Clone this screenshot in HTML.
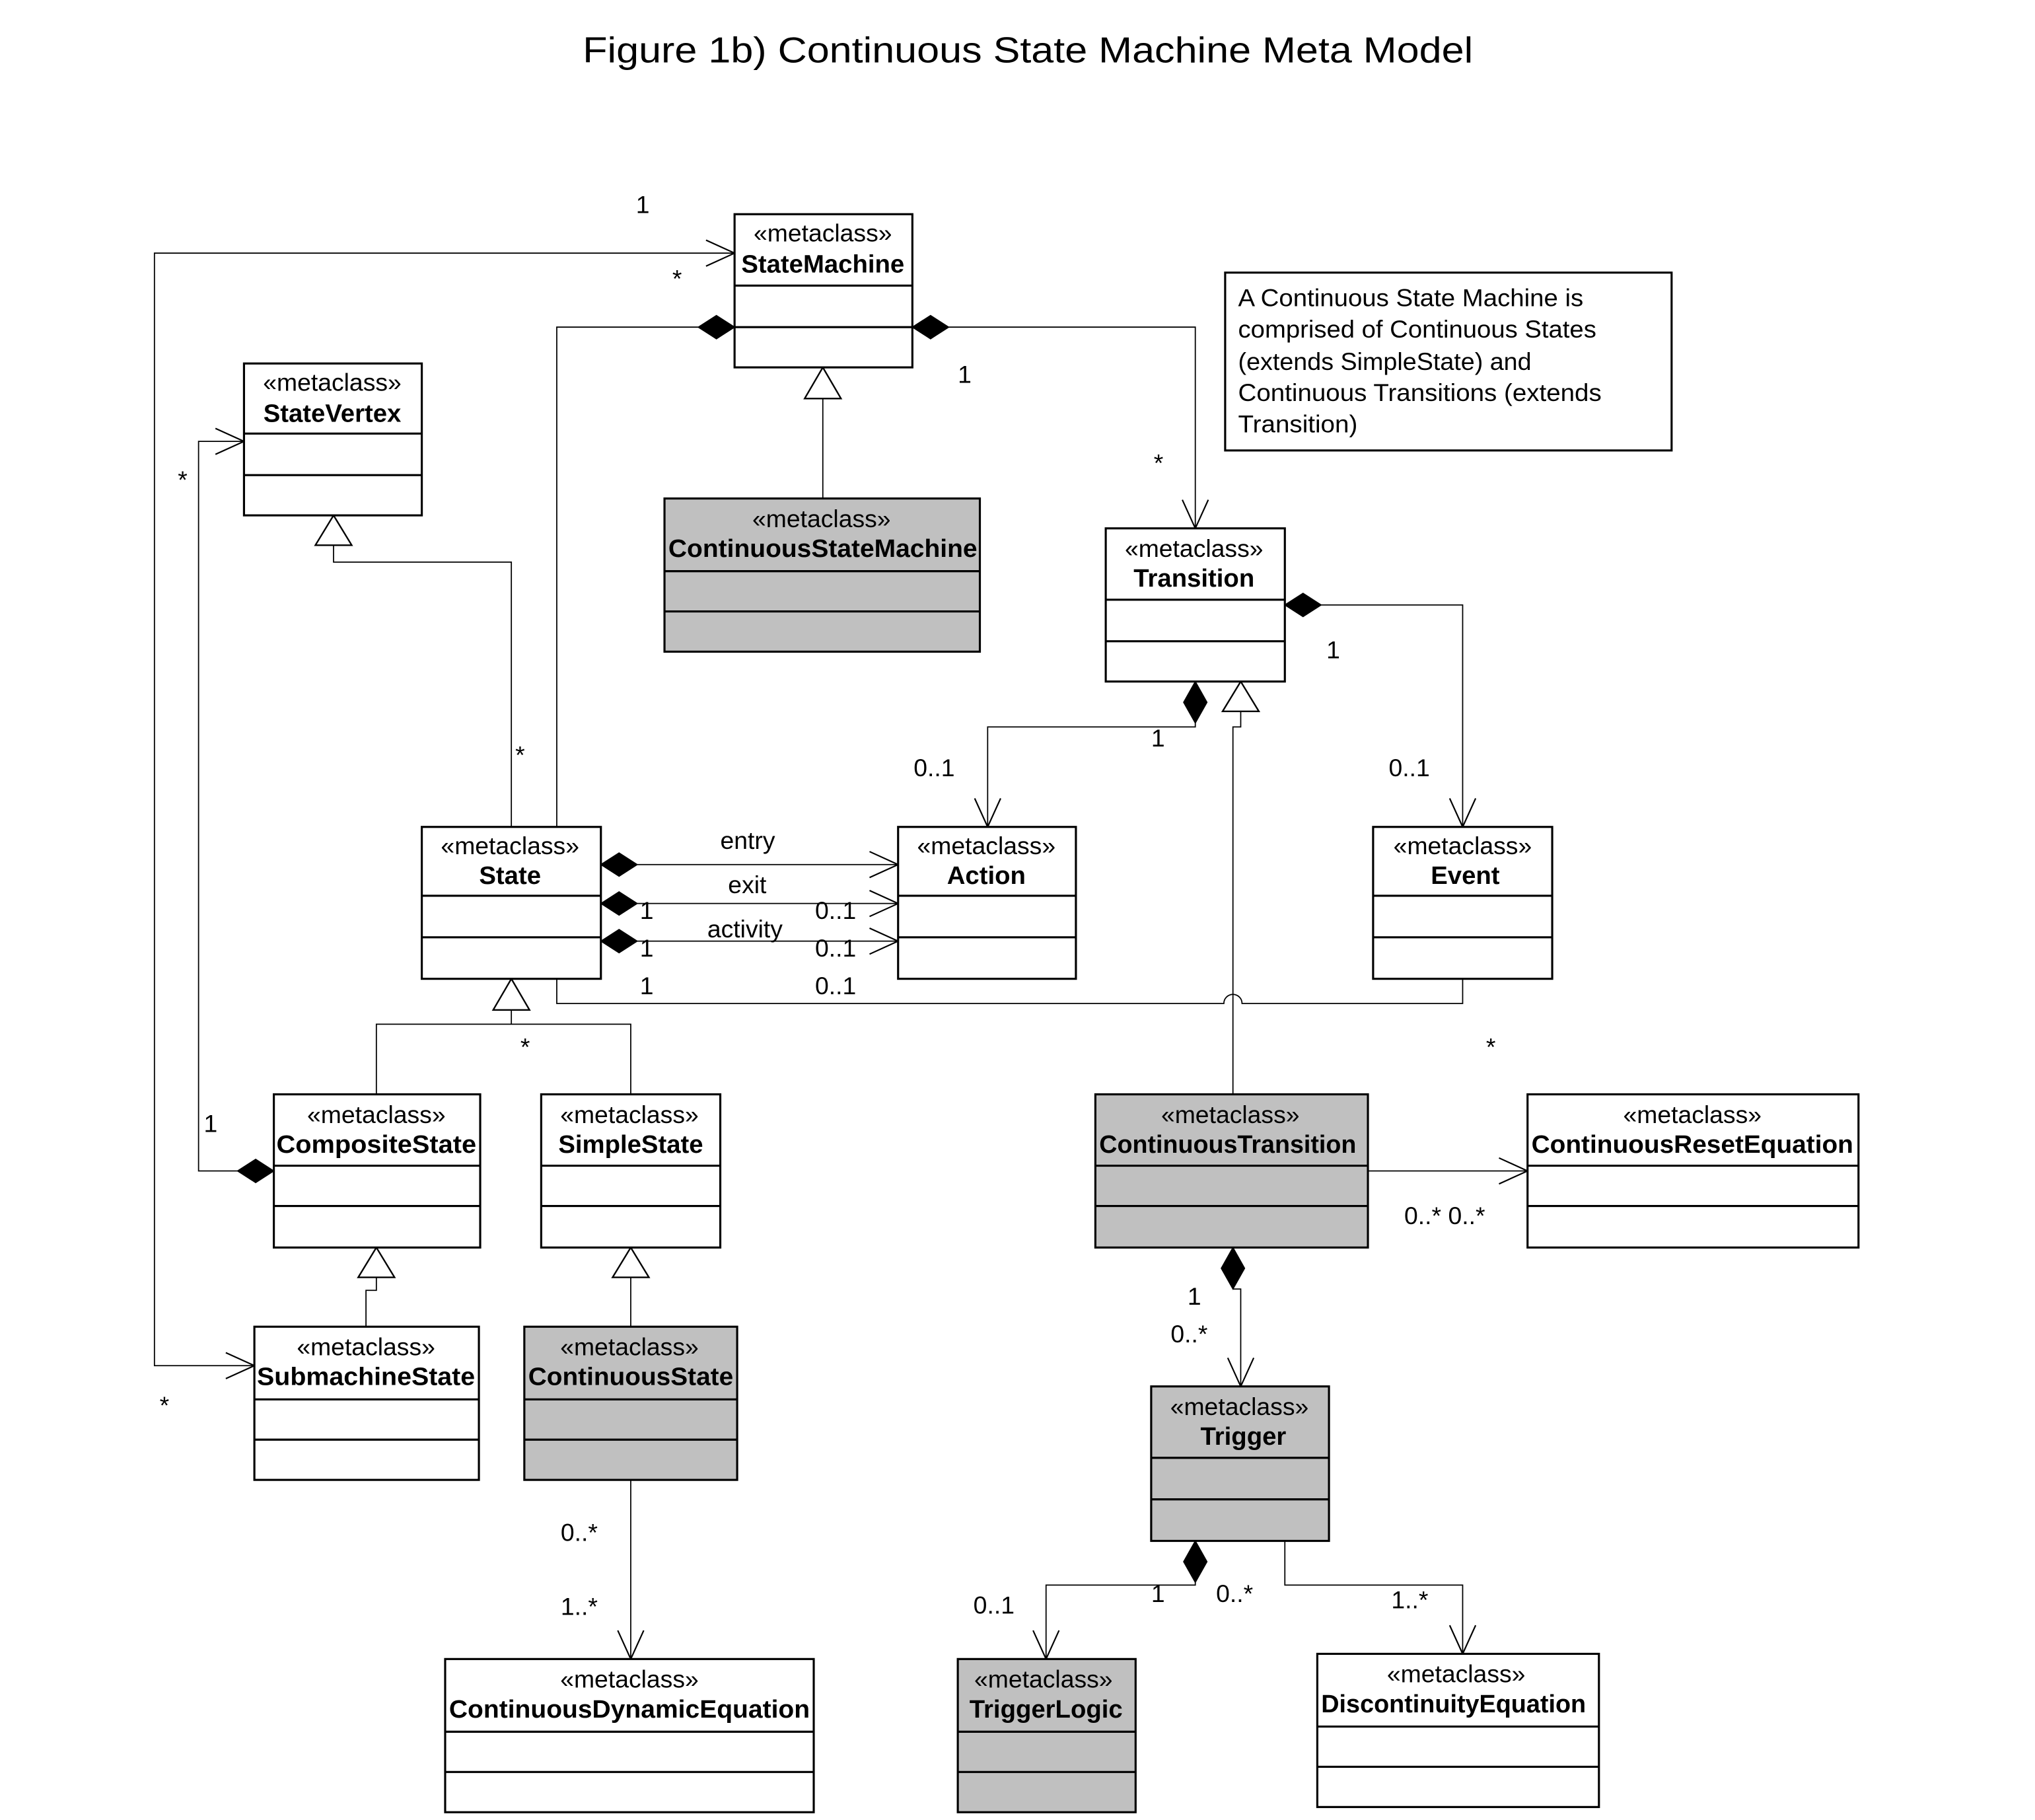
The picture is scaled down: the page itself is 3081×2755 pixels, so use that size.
<!DOCTYPE html>
<html><head><meta charset="utf-8"><style>
html,body{margin:0;padding:0;background:#fff;}
svg{display:block;}
text{font-family:"Liberation Sans",Arial,sans-serif;fill:#000;}
.st{font-size:19px;text-anchor:middle;}
.nm{font-size:19.5px;font-weight:bold;text-anchor:middle;}
.lb{font-size:19px;}
.bx{stroke:#000;stroke-width:1.6;}
.ln{stroke:#000;stroke-width:0.9;fill:none;}
.ar{stroke:#000;stroke-width:1.1;fill:none;}
.dm{fill:#000;stroke:#000;stroke-width:0.8;}
.tr{fill:#fff;stroke:#000;stroke-width:1.2;}
</style></head><body>
<svg width="3081" height="2755" viewBox="0 0 1568 1402" preserveAspectRatio="none" xmlns="http://www.w3.org/2000/svg">
<rect x="0" y="0" width="1568" height="1402" fill="#fff"/>
<text x="449" y="48" style="font-size:28px" textLength="686" lengthAdjust="spacingAndGlyphs">Figure 1b) Continuous State Machine Meta Model</text>

<!-- connectors -->
<polyline class="ln" points="566,195 119,195 119,1052 196,1052"/>
<polyline class="ar" points="544,185 566,195 544,205"/>
<polyline class="ar" points="174,1042 196,1052 174,1062"/>

<polyline class="ln" points="183,902 153,902 153,340 188,340"/>
<polyline class="ar" points="166,330 188,340 166,350"/>

<polyline class="ln" points="538,252 429,252 429,637"/>
<polyline class="ln" points="731,252 921,252 921,407"/>
<polyline class="ar" points="911,385 921,407 931,385"/>

<polyline class="ln" points="634,384 634,307"/>
<polyline class="ln" points="394,637 394,433 257,433 257,420"/>

<polyline class="ln" points="1018,466 1127,466 1127,637"/>
<polyline class="ar" points="1117,615 1127,637 1137,615"/>

<polyline class="ln" points="921,557 921,560 761,560 761,637"/>
<polyline class="ar" points="751,615 761,637 771,615"/>

<polyline class="ln" points="956,548 956,560 950,560 950,767"/>
<path class="ln" d="M950,767 L950,843"/>
<path class="ln" d="M429,754 L429,773 L943,773 A7,7 0 0 1 957,773 L1127,773 L1127,754"/>

<line class="ln" x1="491" y1="666" x2="692" y2="666"/>
<line class="ln" x1="491" y1="696" x2="692" y2="696"/>
<line class="ln" x1="491" y1="725" x2="692" y2="725"/>
<polyline class="ar" points="670,656 692,666 670,676"/>
<polyline class="ar" points="670,686 692,696 670,706"/>
<polyline class="ar" points="670,715 692,725 670,735"/>

<polyline class="ln" points="394,778 394,789"/>
<polyline class="ln" points="290,843 290,789 486,789 486,843"/>
<polyline class="ln" points="290,984 290,994 282,994 282,1022"/>
<polyline class="ln" points="486,984 486,1022"/>

<polyline class="ln" points="486,1140 486,1278"/>
<polyline class="ar" points="476,1256 486,1278 496,1256"/>

<polyline class="ln" points="1054,902 1177,902"/>
<polyline class="ar" points="1155,892 1177,902 1155,912"/>

<polyline class="ln" points="950,993 956,993 956,1068"/>
<polyline class="ar" points="946,1046 956,1068 966,1046"/>

<polyline class="ln" points="921,1219 921,1221 806,1221 806,1278"/>
<polyline class="ar" points="796,1256 806,1278 816,1256"/>
<polyline class="ln" points="990,1187 990,1221 1127,1221 1127,1274"/>
<polyline class="ar" points="1117,1252 1127,1274 1137,1252"/>

<!-- diamonds -->
<polygon class="dm" points="566,252 552,243 538,252 552,261"/>
<polygon class="dm" points="703,252 717,243 731,252 717,261"/>
<polygon class="dm" points="990,466 1004,457 1018,466 1004,475"/>
<polygon class="dm" points="921,525 912,541 921,557 930,541"/>
<polygon class="dm" points="463,666 477,657 491,666 477,675"/>
<polygon class="dm" points="463,696 477,687 491,696 477,705"/>
<polygon class="dm" points="463,725 477,716 491,725 477,734"/>
<polygon class="dm" points="211,902 197,893 183,902 197,911"/>
<polygon class="dm" points="950,961 941,977 950,993 959,977"/>
<polygon class="dm" points="921,1187 912,1203 921,1219 930,1203"/>

<!-- triangles -->
<polygon class="tr" points="634,283 620,307 648,307"/>
<polygon class="tr" points="257,397 243,420 271,420"/>
<polygon class="tr" points="956,525 942,548 970,548"/>
<polygon class="tr" points="394,754 380,778 408,778"/>
<polygon class="tr" points="290,961 276,984 304,984"/>
<polygon class="tr" points="486,961 472,984 500,984"/>

<!-- boxes -->
<g class="bx">
<rect x="566" y="165" width="137" height="118" fill="#fff"/><line x1="566" y1="220" x2="703" y2="220"/><line x1="566" y1="252" x2="703" y2="252"/>
<rect x="188" y="280" width="137" height="117" fill="#fff"/><line x1="188" y1="334" x2="325" y2="334"/><line x1="188" y1="366" x2="325" y2="366"/>
<rect x="512" y="384" width="243" height="118" fill="#c0c0c0"/><line x1="512" y1="440" x2="755" y2="440"/><line x1="512" y1="471" x2="755" y2="471"/>
<rect x="852" y="407" width="138" height="118" fill="#fff"/><line x1="852" y1="462" x2="990" y2="462"/><line x1="852" y1="494" x2="990" y2="494"/>
<rect x="944" y="210" width="344" height="137" fill="#fff"/>
<rect x="325" y="637" width="138" height="117" fill="#fff"/><line x1="325" y1="690" x2="463" y2="690"/><line x1="325" y1="722" x2="463" y2="722"/>
<rect x="692" y="637" width="137" height="117" fill="#fff"/><line x1="692" y1="690" x2="829" y2="690"/><line x1="692" y1="722" x2="829" y2="722"/>
<rect x="1058" y="637" width="138" height="117" fill="#fff"/><line x1="1058" y1="690" x2="1196" y2="690"/><line x1="1058" y1="722" x2="1196" y2="722"/>
<rect x="211" y="843" width="159" height="118" fill="#fff"/><line x1="211" y1="898" x2="370" y2="898"/><line x1="211" y1="929" x2="370" y2="929"/>
<rect x="417" y="843" width="138" height="118" fill="#fff"/><line x1="417" y1="898" x2="555" y2="898"/><line x1="417" y1="929" x2="555" y2="929"/>
<rect x="844" y="843" width="210" height="118" fill="#c0c0c0"/><line x1="844" y1="898" x2="1054" y2="898"/><line x1="844" y1="929" x2="1054" y2="929"/>
<rect x="1177" y="843" width="255" height="118" fill="#fff"/><line x1="1177" y1="898" x2="1432" y2="898"/><line x1="1177" y1="929" x2="1432" y2="929"/>
<rect x="196" y="1022" width="173" height="118" fill="#fff"/><line x1="196" y1="1078" x2="369" y2="1078"/><line x1="196" y1="1109" x2="369" y2="1109"/>
<rect x="404" y="1022" width="164" height="118" fill="#c0c0c0"/><line x1="404" y1="1078" x2="568" y2="1078"/><line x1="404" y1="1109" x2="568" y2="1109"/>
<rect x="887" y="1068" width="137" height="119" fill="#c0c0c0"/><line x1="887" y1="1123" x2="1024" y2="1123"/><line x1="887" y1="1155" x2="1024" y2="1155"/>
<rect x="343" y="1278" width="284" height="118" fill="#fff"/><line x1="343" y1="1334" x2="627" y2="1334"/><line x1="343" y1="1365" x2="627" y2="1365"/>
<rect x="738" y="1278" width="137" height="118" fill="#c0c0c0"/><line x1="738" y1="1334" x2="875" y2="1334"/><line x1="738" y1="1365" x2="875" y2="1365"/>
<rect x="1015" y="1274" width="217" height="118" fill="#fff"/><line x1="1015" y1="1330" x2="1232" y2="1330"/><line x1="1015" y1="1361" x2="1232" y2="1361"/>
</g>

<!-- box text -->
<text class="st" x="634" y="186">«metaclass»</text><text class="nm" x="634" y="210">StateMachine</text>
<text class="st" x="256" y="301">«metaclass»</text><text class="nm" x="256" y="325">StateVertex</text>
<text class="st" x="633" y="406">«metaclass»</text><text class="nm" x="634" y="429" textLength="238" lengthAdjust="spacingAndGlyphs">ContinuousStateMachine</text>
<text class="st" x="920" y="429">«metaclass»</text><text class="nm" x="920" y="452">Transition</text>
<text class="st" x="393" y="658">«metaclass»</text><text class="nm" x="393" y="681">State</text>
<text class="st" x="760" y="658">«metaclass»</text><text class="nm" x="760" y="681">Action</text>
<text class="st" x="1127" y="658">«metaclass»</text><text class="nm" x="1129" y="681">Event</text>
<text class="st" x="290" y="865">«metaclass»</text><text class="nm" x="290" y="888" textLength="154" lengthAdjust="spacingAndGlyphs">CompositeState</text>
<text class="st" x="485" y="865">«metaclass»</text><text class="nm" x="486" y="888">SimpleState</text>
<text class="st" x="948" y="865">«metaclass»</text><text class="nm" x="946" y="888" textLength="198" lengthAdjust="spacingAndGlyphs">ContinuousTransition</text>
<text class="st" x="1304" y="865">«metaclass»</text><text class="nm" x="1304" y="888" textLength="248" lengthAdjust="spacingAndGlyphs">ContinuousResetEquation</text>
<text class="st" x="282" y="1044">«metaclass»</text><text class="nm" x="282" y="1067" textLength="168" lengthAdjust="spacingAndGlyphs">SubmachineState</text>
<text class="st" x="485" y="1044">«metaclass»</text><text class="nm" x="486" y="1067" textLength="158" lengthAdjust="spacingAndGlyphs">ContinuousState</text>
<text class="st" x="955" y="1090">«metaclass»</text><text class="nm" x="958" y="1113">Trigger</text>
<text class="st" x="485" y="1300">«metaclass»</text><text class="nm" x="485" y="1323" textLength="278" lengthAdjust="spacingAndGlyphs">ContinuousDynamicEquation</text>
<text class="st" x="804" y="1300">«metaclass»</text><text class="nm" x="806" y="1323">TriggerLogic</text>
<text class="st" x="1122" y="1296">«metaclass»</text><text class="nm" x="1120" y="1319" textLength="204" lengthAdjust="spacingAndGlyphs">DiscontinuityEquation</text>

<!-- note -->
<g class="lb">
<text x="954" y="236" textLength="266" lengthAdjust="spacingAndGlyphs">A Continuous State Machine is</text>
<text x="954" y="260" textLength="276" lengthAdjust="spacingAndGlyphs">comprised of Continuous States</text>
<text x="954" y="285" textLength="226" lengthAdjust="spacingAndGlyphs">(extends SimpleState) and</text>
<text x="954" y="309" textLength="280" lengthAdjust="spacingAndGlyphs">Continuous Transitions (extends</text>
<text x="954" y="333" textLength="92" lengthAdjust="spacingAndGlyphs">Transition)</text>
</g>

<!-- labels -->
<g class="lb">
<text x="490" y="164">1</text>
<text x="518" y="221">*</text>
<text x="137" y="376">*</text>
<text x="123" y="1089">*</text>
<text x="157" y="872">1</text>
<text x="397" y="588">*</text>
<text x="738" y="295">1</text>
<text x="889" y="363">*</text>
<text x="1022" y="507">1</text>
<text x="1070" y="598">0..1</text>
<text x="887" y="575">1</text>
<text x="704" y="598">0..1</text>
<text x="555" y="654">entry</text>
<text x="561" y="688">exit</text>
<text x="545" y="722">activity</text>
<text x="493" y="708">1</text>
<text x="493" y="737">1</text>
<text x="493" y="766">1</text>
<text x="628" y="708">0..1</text>
<text x="628" y="737">0..1</text>
<text x="628" y="766">0..1</text>
<text x="1145" y="813">*</text>
<text x="401" y="813">*</text>
<text x="1082" y="943">0..* 0..*</text>
<text x="915" y="1005">1</text>
<text x="902" y="1034">0..*</text>
<text x="432" y="1187">0..*</text>
<text x="432" y="1244">1..*</text>
<text x="887" y="1234">1</text>
<text x="937" y="1234">0..*</text>
<text x="750" y="1243">0..1</text>
<text x="1072" y="1239">1..*</text>
</g>
</svg>
</body></html>
